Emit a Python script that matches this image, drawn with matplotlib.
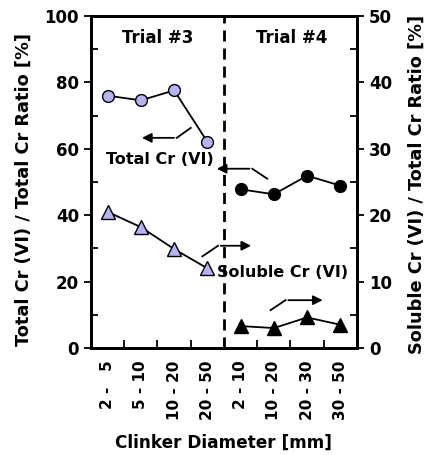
"""
Total / soluble Cr(VI) ratio vs clinker diameter, Trials #3 and #4.
"""
import matplotlib
matplotlib.use('Agg')
import matplotlib.pyplot as plt
import numpy as np

plt.rcParams['font.family'] = ['DejaVu Sans']
plt.rcParams['font.weight'] = 'bold'

# categories (trial 3 then trial 4)
categories = ['2 -   5', '5 - 10', '10 - 20', '20 - 50',
              '2 - 10', '10 - 20', '20 - 30', '30 - 50']

# total Cr(VI) / total Cr ratio [%] (left axis)
total_t3 = [76.0, 74.6, 77.6, 62.1]
total_t4 = [47.8, 46.3, 51.9, 48.9]

# soluble Cr(VI) / total Cr ratio [%] (right axis)
soluble_t3 = [20.5, 18.2, 14.9, 12.0]
soluble_t4 = [3.3, 3.0, 4.6, 3.5]

LAV = '#b4b4f2'

fig = plt.figure(figsize=(4.28, 4.55), dpi=100)
ax = fig.add_axes([0.2126, 0.2352, 0.6215, 0.7296])
ax2 = ax.twinx()

x = np.arange(len(categories)) + 0.5
x3, x4 = x[:4], x[4:]

ax.plot(x3, total_t3, '-', color='black', lw=1.3, marker='o', ms=8.5,
        mfc=LAV, mec='black', mew=1.0, zorder=3)
ax.plot(x4, total_t4, '-', color='black', lw=1.3, marker='o', ms=8.5,
        mfc='black', mec='black', zorder=3)
ax2.plot(x3, soluble_t3, '-', color='black', lw=1.3, marker='^', ms=9.5,
         mfc=LAV, mec='black', mew=1.0, zorder=3)
ax2.plot(x4, soluble_t4, '-', color='black', lw=1.3, marker='^', ms=9.5,
         mfc='black', mec='black', zorder=3)

ax.set_xlim(0, 8)
ax.set_ylim(0, 100)
ax2.set_ylim(0, 50)

ax.axvline(4, color='black', lw=2, ls=(0, (4, 2.5)), zorder=2)

# ticks: category boundaries on x, majors out / minors in on y
ax.set_xticks(np.arange(1, 8))
ax.set_xticklabels([])
ax.tick_params(axis='x', direction='in', length=6, width=1.3, top=False)
ax.set_xticks(x, minor=True)
ax.set_xticklabels(categories, minor=True, rotation=90, fontsize=11,
                   fontweight='bold')
ax.tick_params(axis='x', which='minor', length=0, pad=9)

ax.set_yticks(np.arange(0, 101, 20))
ax.set_yticks(np.arange(10, 100, 20), minor=True)
ax.tick_params(axis='y', which='major', direction='out', length=5, width=1.3,
               labelsize=12)
ax.tick_params(axis='y', which='minor', direction='in', length=5, width=1.3)

ax2.set_yticks(np.arange(0, 51, 10))
ax2.set_yticks(np.arange(5, 50, 10), minor=True)
ax2.tick_params(axis='y', which='major', direction='out', length=5, width=1.3,
                labelsize=12)
ax2.tick_params(axis='y', which='minor', direction='in', length=5, width=1.3)

for a in (ax, ax2):
    for s in a.spines.values():
        s.set_linewidth(2)

ax.set_xlabel('Clinker Diameter [mm]', fontsize=12.2, fontweight='bold',
              labelpad=10)
ax.set_ylabel('Total Cr (VI) / Total Cr Ratio [%]', fontsize=12.8,
              fontweight='bold')
ax.yaxis.set_label_coords(-0.22, 0.476)
ax2.set_ylabel('Soluble Cr (VI) / Total Cr Ratio [%]', fontsize=12.8,
               fontweight='bold')
ax2.yaxis.set_label_coords(1.19, 0.494)

# trial labels
ax.text(2.0, 93.5, 'Trial #3', ha='center', va='center', fontsize=12,
        fontweight='bold')
ax.text(6.05, 93.5, 'Trial #4', ha='center', va='center', fontsize=12,
        fontweight='bold')

# series labels with bent arrows
ax.text(2.06, 56.8, 'Total Cr (VI)', ha='center', va='center', fontsize=11.5,
        fontweight='bold')
ax2.text(3.8, 11.3, 'Soluble Cr (VI)', ha='left', va='center', fontsize=11.5,
         fontweight='bold', zorder=5)

arrow_kw = dict(arrowstyle='-|>', color='black', lw=1.3, mutation_scale=14)


def bent_arrow(axis, p0, p1, p2):
    axis.plot([p0[0], p1[0]], [p0[1], p1[1]], color='black', lw=1.3)
    axis.annotate('', xy=p2, xytext=p1, arrowprops=arrow_kw)


bent_arrow(ax, (3.0, 66.3), (2.58, 63.3), (1.45, 63.3))
bent_arrow(ax, (5.3, 51.0), (4.85, 54.0), (3.7, 54.0))
bent_arrow(ax2, (3.35, 13.8), (3.82, 15.4), (4.9, 15.4))
bent_arrow(ax2, (5.4, 5.7), (5.85, 7.2), (7.05, 7.2))

fig.savefig('out.png', dpi=100)
